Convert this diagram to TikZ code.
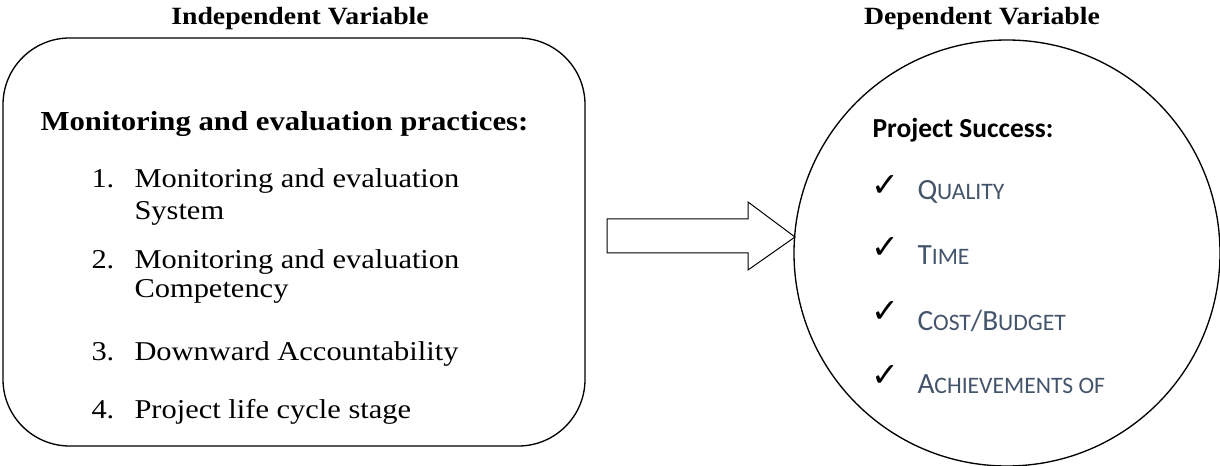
\documentclass[tikz,border=0pt]{standalone}
\usepackage{fontspec}
\setmainfont{Liberation Serif}[FakeStretch=1.12]
\newfontfamily\calibrifont{Carlito}
\newfontfamily\tickfont{DejaVu Sans}
\definecolor{successblue}{HTML}{44546A}

\newcommand{\scfull}[1]{{\fontsize{22}{26}\selectfont #1}}
\newcommand{\scsmall}[1]{{\fontsize{17.7}{21}\selectfont #1}}

\tikzset{every picture/.style={line width=0.75pt}}
\tikzset{
  vartitle/.style={font=\bfseries\fontsize{18.6}{22}\selectfont},
  boxhead/.style={font=\bfseries\fontsize{20.6}{24}\selectfont},
  boxitem/.style={font=\fontsize{20.4}{24}\selectfont},
  successhead/.style={font=\calibrifont\bfseries\fontsize{20.6}{24}\selectfont},
  tick/.style={font=\tickfont\fontsize{25}{28}\selectfont},
  successitem/.style={text=successblue, font=\calibrifont},
}

\begin{document}
\begin{tikzpicture}[x=0.75pt,y=0.75pt,yscale=-1,xscale=1]
\useasboundingbox (0,0) rectangle (1220,466);

%Shape: Rounded Rect [id:ivbox]
\draw (294,242) node [draw, line width=1pt, rounded corners=50pt, minimum width=436.5pt, minimum height=306pt, inner sep=0pt] (ivbox) {};
%Shape: Circle [id:dvcircle]
\draw (1007,253) node [draw, line width=1pt, circle, minimum size=319.5pt, inner sep=0pt] (dvcircle) {};
%Shape: Right Arrow [id:blockarrow]
\draw   (607,219) -- (748,219) -- (748,202) -- (795,237) -- (748,270) -- (748,253) -- (607,253) -- cycle ;

% Text Node
\draw (300,25) node [anchor=base][inner sep=0.75pt] [vartitle] (ivtitle) {Independent Variable};
% Text Node
\draw (982,25) node [anchor=base][inner sep=0.75pt] [vartitle] (dvtitle) {Dependent Variable};
% Text Node
\draw (39,131) node [anchor=base west][inner sep=0.75pt] [boxhead] (practices) {Monitoring and evaluation practices:};
% Text Node
\draw (90,188) node [anchor=base west][inner sep=0.75pt] [boxitem] (num1) {1.};
\draw (133,188) node [anchor=base west][inner sep=0.75pt] [boxitem] (item1a) {Monitoring and evaluation};
\draw (133,220) node [anchor=base west][inner sep=0.75pt] [boxitem] (item1b) {System};
% Text Node
\draw (90,269) node [anchor=base west][inner sep=0.75pt] [boxitem] (num2) {2.};
\draw (133,269) node [anchor=base west][inner sep=0.75pt] [boxitem] (item2a) {Monitoring and evaluation};
\draw (133,298) node [anchor=base west][inner sep=0.75pt] [boxitem] (item2b) {Competency};
% Text Node
\draw (90,361) node [anchor=base west][inner sep=0.75pt] [boxitem] (num3) {3.};
\draw (133,361) node [anchor=base west][inner sep=0.75pt] [boxitem] (item3) {Downward Accountability};
% Text Node
\draw (90,418) node [anchor=base west][inner sep=0.75pt] [boxitem] (num4) {4.};
\draw (133,418) node [anchor=base west][inner sep=0.75pt] [boxitem] (item4) {Project life cycle stage};

% Text Node
\draw (871,138) node [anchor=base west][inner sep=0.75pt] [successhead] (success) {Project Success:};
% Text Node
\draw (870,197) node [anchor=base west][inner sep=0.75pt] [tick] (tick1) {✓};
\draw (916,200) node [anchor=base west][inner sep=0.75pt] [successitem] (quality) {\scfull{Q}\scsmall{UALITY}};
% Text Node
\draw (870,259) node [anchor=base west][inner sep=0.75pt] [tick] (tick2) {✓};
\draw (916,265) node [anchor=base west][inner sep=0.75pt] [successitem] (time) {\scfull{T}\scsmall{IME}};
% Text Node
\draw (870,323) node [anchor=base west][inner sep=0.75pt] [tick] (tick3) {✓};
\draw (916,330) node [anchor=base west][inner sep=0.75pt] [successitem] (cost) {\scfull{C}\scsmall{OST}\scfull{/B}\scsmall{UDGET}};
% Text Node
\draw (870,387) node [anchor=base west][inner sep=0.75pt] [tick] (tick4) {✓};
\draw (916,393) node [anchor=base west][inner sep=0.75pt] [successitem] (achieve) {\scfull{A}\scsmall{CHIEVEMENTS OF}};

\end{tikzpicture}
\end{document}
